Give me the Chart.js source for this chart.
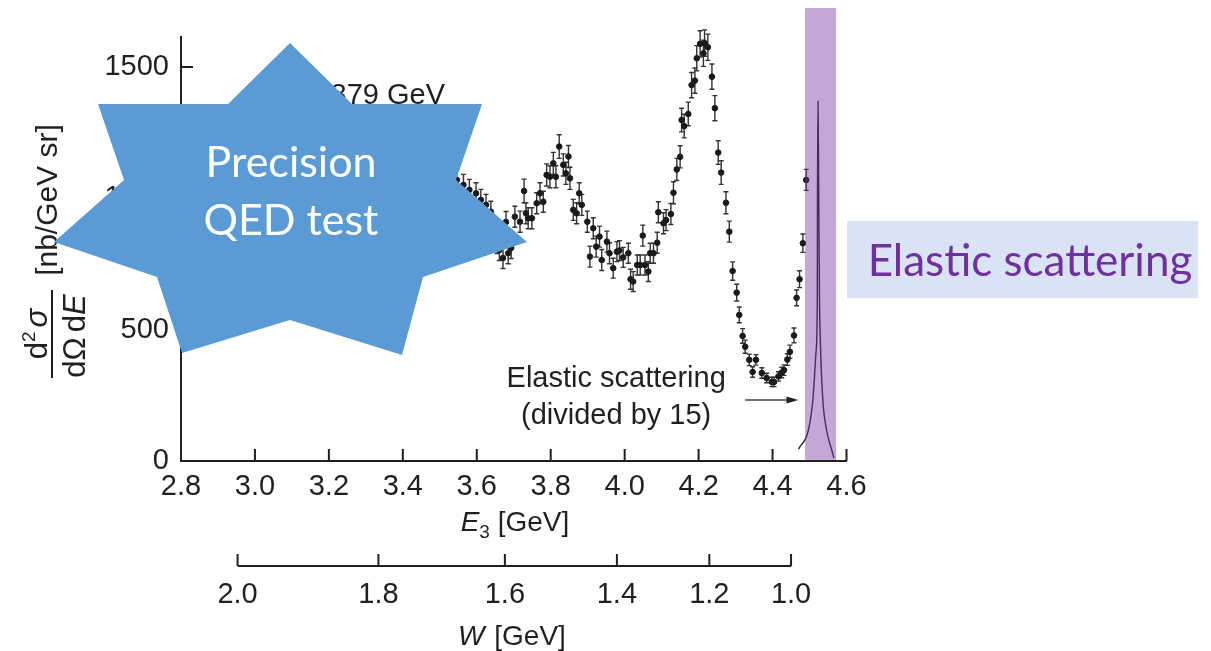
<!DOCTYPE html>
<html>
<head>
<meta charset="utf-8">
<script src="https://cdn.jsdelivr.net/npm/chart.js@4.4.1/dist/chart.umd.min.js"></script>
<style>
  html, body { margin: 0; padding: 0; background: #fff; }
  #wrap { width: 1211px; height: 651px; position: relative; }
</style>
</head>
<body>
<div id="wrap"><canvas id="c" width="1211" height="651"></canvas></div>
<script>
/* ---- dados (E3 em GeV, seção de choque em nb/GeV sr) ---- */
const energies = [
  2.80, 2.82, 2.84, 2.86, 2.88, 2.90, 2.92, 2.94, 2.96, 2.98,
  3.00, 3.02, 3.04, 3.06, 3.08, 3.10, 3.12, 3.14, 3.16, 3.18,
  3.20, 3.22, 3.24, 3.26, 3.28, 3.30, 3.32, 3.34, 3.36, 3.38,
  3.40, 3.42, 3.44, 3.46, 3.48, 3.50, 3.52,
  3.546, 3.564, 3.580, 3.598, 3.611, 3.625, 3.638, 3.647, 3.655, 3.661,
  3.671, 3.679, 3.685, 3.693, 3.703, 3.717, 3.728, 3.733, 3.739, 3.749,
  3.762, 3.771, 3.780, 3.789, 3.798, 3.807, 3.814, 3.823, 3.834, 3.841,
  3.848, 3.852, 3.861, 3.870, 3.877, 3.884, 3.899, 3.906, 3.915, 3.923,
  3.932, 3.938, 3.952, 3.959, 3.969, 3.979, 3.986, 3.996, 4.010, 4.016,
  4.023, 4.034, 4.042, 4.049, 4.055, 4.064, 4.069, 4.078, 4.088, 4.091,
  4.105, 4.112, 4.125, 4.132, 4.141, 4.150, 4.154, 4.161, 4.172, 4.181,
  4.190, 4.195, 4.204, 4.213, 4.216, 4.225, 4.236, 4.244, 4.253, 4.261,
  4.274, 4.283, 4.292, 4.303, 4.310, 4.319, 4.326, 4.337, 4.346, 4.355,
  4.371, 4.384, 4.398, 4.404, 4.416, 4.425, 4.431, 4.440, 4.447, 4.458,
  4.465, 4.473, 4.482, 4.491
];
const xsec = [
  1010, 1045, 990, 1030, 1060, 1005, 1040, 1075, 1020, 1050,
  1085, 1030, 1065, 1010, 1055, 1090, 1040, 1070, 1025, 1060,
  1095, 1045, 1080, 1035, 1070, 1100, 1055, 1085, 1040, 1075,
  1095, 1060, 1090, 1050, 1080, 1065, 1085,
  1070, 1051, 1032, 1019, 994, 975, 949, 880, 830, 803,
  773, 910, 791, 811, 930, 911, 1028, 943, 924, 924,
  981, 1019, 987, 1089, 1082, 1133, 1082, 1197, 1127, 1095,
  1159, 1076, 956, 943, 1019, 975, 911, 778, 886, 816,
  854, 765, 835, 791, 734, 797, 801, 775, 791, 692,
  683, 746, 746, 858, 746, 721, 791, 791, 831, 947,
  905, 917, 940, 1021, 1110, 1158, 1298, 1275, 1321, 1431,
  1448, 1533, 1588, 1552, 1591, 1575, 1463, 1343, 1174, 1098,
  983, 873, 723, 641, 556, 476, 435, 385, 339, 385,
  335, 316, 301, 301, 322, 337, 346, 386, 416, 478,
  621, 692, 829, 1070
];
const xsecErr = [
  40, 40, 40, 40, 40, 40, 40, 40, 40, 40,
  40, 40, 40, 40, 40, 40, 40, 40, 40, 40,
  40, 40, 40, 40, 40, 40, 40, 40, 40, 40,
  40, 40, 40, 40, 40, 40, 40,
  40, 40, 40, 40, 40, 40, 40, 40, 40, 40,
  40, 40, 40, 40, 40, 40, 45, 40, 40, 40,
  40, 40, 40, 42, 42, 42, 42, 45, 42, 42,
  42, 42, 40, 40, 40, 40, 40, 40, 40, 40,
  40, 40, 40, 40, 38, 38, 38, 38, 38, 38,
  38, 38, 38, 40, 38, 38, 38, 38, 40, 40,
  40, 40, 40, 42, 42, 42, 45, 45, 45, 48,
  48, 48, 50, 50, 50, 50, 48, 48, 45, 45,
  42, 40, 35, 32, 30, 28, 25, 22, 20, 20,
  20, 18, 18, 18, 18, 20, 20, 22, 25, 28,
  30, 32, 35, 40
];

// pico elástico (dividido por 15)
const elasticE = [4.470, 4.497, 4.509, 4.518, 4.521, 4.5215, 4.523, 4.525, 4.527, 4.530, 4.536, 4.546, 4.560, 4.566];
const elasticXsec = [45, 118, 232, 423, 613, 994, 1370, 994, 613, 423, 232, 118, 42, 11];

// eixos
const xTickValues = [2.8, 3.0, 3.2, 3.4, 3.6, 3.8, 4.0, 4.2, 4.4, 4.6];
const yTickValues = [0, 500, 1000, 1500];
const wTickLabels = ['2.0', '1.8', '1.6', '1.4', '1.2', '1.0'];
const wTickE = [2.953, 3.334, 3.676, 3.979, 4.229, 4.450];
const bandE = [4.488, 4.572];

const SANS = '"Liberation Sans", Arial, Helvetica, sans-serif';
const SLIDE = 'Lato, "Open Sans", sans-serif';
const INK = '#231f20';

/** Desenha uma sequência de trechos de texto com fontes diferentes */
function drawRuns(ctx, runs, x, y, align) {
  let w = 0;
  runs.forEach(r => { ctx.font = r.f; w += ctx.measureText(r.t).width + (r.gap || 0); });
  let cx = align === 'center' ? x - w / 2 : align === 'right' ? x - w : x;
  ctx.textAlign = 'left';
  ctx.textBaseline = 'alphabetic';
  runs.forEach(r => {
    ctx.font = r.f;
    ctx.fillText(r.t, cx, y + (r.dy || 0));
    cx += ctx.measureText(r.t).width + (r.gap || 0);
  });
}

const errorBars = {
  id: 'errorBars',
  beforeDatasetsDraw(chart) {
    const { ctx, scales: { x, y } } = chart;
    ctx.save();
    ctx.strokeStyle = '#333';
    ctx.lineWidth = 1.4;
    energies.forEach((e, i) => {
      const px = x.getPixelForValue(e);
      const top = y.getPixelForValue(xsec[i] + xsecErr[i]);
      const bot = y.getPixelForValue(xsec[i] - xsecErr[i]);
      ctx.beginPath();
      ctx.moveTo(px, top); ctx.lineTo(px, bot);
      ctx.moveTo(px - 2.5, top); ctx.lineTo(px + 2.5, top);
      ctx.moveTo(px - 2.5, bot); ctx.lineTo(px + 2.5, bot);
      ctx.stroke();
    });
    ctx.restore();
  }
};

const overlay = {
  id: 'overlay',
  afterDraw(chart) {
    const { ctx, chartArea: a, scales: { x, y } } = chart;
    ctx.save();

    // marcas dos eixos, para dentro
    ctx.strokeStyle = INK;
    ctx.lineWidth = 2;
    ctx.beginPath();
    yTickValues.slice(1).forEach(v => {
      const py = y.getPixelForValue(v);
      ctx.moveTo(a.left, py); ctx.lineTo(a.left + 12, py);
    });
    xTickValues.slice(1).forEach(v => {
      const px = x.getPixelForValue(v);
      ctx.moveTo(px, a.bottom); ctx.lineTo(px, a.bottom - 12);
    });
    ctx.stroke();

    // eixo W
    const wy = 566;
    const wx0 = x.getPixelForValue(wTickE[0]);
    const wx1 = x.getPixelForValue(wTickE[wTickE.length - 1]);
    ctx.beginPath();
    ctx.moveTo(wx0, wy); ctx.lineTo(wx1, wy);
    wTickE.forEach(e => {
      const px = x.getPixelForValue(e);
      ctx.moveTo(px, wy); ctx.lineTo(px, wy - 12);
    });
    ctx.stroke();
    ctx.fillStyle = INK;
    ctx.font = `29px ${SANS}`;
    ctx.textAlign = 'center';
    wTickE.forEach((e, i) => ctx.fillText(wTickLabels[i], x.getPixelForValue(e), 603));

    // títulos dos eixos
    drawRuns(ctx, [
      { t: 'W', f: `italic 28px ${SANS}`, gap: 2 },
      { t: ' [GeV]', f: `28px ${SANS}` }
    ], 512, 645, 'center');
    drawRuns(ctx, [
      { t: 'E', f: `italic 28px ${SANS}` },
      { t: '3', f: `19px ${SANS}`, dy: 7 },
      { t: ' [GeV]', f: `28px ${SANS}` }
    ], 515, 531, 'center');

    // título do eixo y (fração girada)
    ctx.save();
    ctx.translate(47, 334);
    ctx.rotate(-Math.PI / 2);
    drawRuns(ctx, [
      { t: 'd', f: `31px ${SANS}` },
      { t: '2', f: `19px ${SANS}`, dy: -12, gap: 4 },
      { t: 'σ', f: `italic 31px ${SANS}` }
    ], 0, 0, 'center');
    ctx.restore();
    ctx.save();
    ctx.translate(85, 336);
    ctx.rotate(-Math.PI / 2);
    drawRuns(ctx, [
      { t: 'dΩ', f: `31px ${SANS}`, gap: 5 },
      { t: 'd', f: `31px ${SANS}` },
      { t: 'E', f: `italic 31px ${SANS}` }
    ], 0, 0, 'center');
    ctx.restore();
    ctx.beginPath();
    ctx.lineWidth = 2;
    ctx.moveTo(52, 290); ctx.lineTo(52, 378);
    ctx.stroke();
    ctx.save();
    ctx.translate(57, 200);
    ctx.rotate(-Math.PI / 2);
    ctx.font = `30px ${SANS}`;
    ctx.textAlign = 'center';
    ctx.fillText('[nb/GeV sr]', 0, 0);
    ctx.restore();

    // energia do feixe
    drawRuns(ctx, [
      { t: 'E', f: `italic 29px ${SANS}` },
      { t: '1', f: `19px ${SANS}`, dy: 7, gap: 4 },
      { t: '=', f: `29px ${SANS}`, gap: 4 },
      { t: '4.879 GeV', f: `29px ${SANS}` }
    ], x.getPixelForValue(3.514), y.getPixelForValue(1359), 'right');

    // anotação do pico elástico
    ctx.font = `29px ${SANS}`;
    ctx.textAlign = 'center';
    const ax = x.getPixelForValue(3.977);
    ctx.fillText('Elastic scattering', ax, 387);
    ctx.fillText('(divided by 15)', ax, 424);
    const ay = y.getPixelForValue(232);
    const a0 = x.getPixelForValue(4.326);
    const a1 = x.getPixelForValue(4.470);
    ctx.strokeStyle = '#444';
    ctx.lineWidth = 1.6;
    ctx.beginPath();
    ctx.moveTo(a0, ay); ctx.lineTo(a1 - 8, ay);
    ctx.stroke();
    ctx.fillStyle = '#222';
    ctx.beginPath();
    ctx.moveTo(a1, ay); ctx.lineTo(a1 - 12, ay - 3.5); ctx.lineTo(a1 - 12, ay + 3.5);
    ctx.closePath();
    ctx.fill();

    // faixa roxa destacando o pico elástico
    const b0 = x.getPixelForValue(bandE[0]);
    const b1 = x.getPixelForValue(bandE[1]);
    ctx.fillStyle = 'rgba(112, 48, 160, 0.42)';
    ctx.fillRect(b0, 8, b1 - b0, a.bottom - 1 - 8);

    // estrela azul
    const star = [
      [290, 43], [352, 104], [482, 104], [456, 180], [527, 242], [423, 277], [402, 355],
      [290, 320], [182, 353], [157, 277], [54, 242], [124, 180], [98, 104], [228, 104]
    ];
    ctx.fillStyle = '#5b9bd5';
    ctx.beginPath();
    star.forEach(([sx, sy], i) => i ? ctx.lineTo(sx, sy) : ctx.moveTo(sx, sy));
    ctx.closePath();
    ctx.fill();
    ctx.fillStyle = '#fff';
    ctx.font = `43px ${SLIDE}`;
    ctx.textAlign = 'center';
    ctx.fillText('Precision', 291, 177);
    ctx.fillText('QED test', 291, 235);

    // caixa da direita
    ctx.fillStyle = '#dae3f3';
    ctx.fillRect(847, 221, 351, 77);
    ctx.fillStyle = '#7030a0';
    ctx.font = `44px ${SLIDE}`;
    ctx.fillText('Elastic scattering', 1030, 276);

    ctx.restore();
  }
};

const points = energies.map((e, i) => ({ x: e, y: xsec[i] }));
const elastic = elasticE.map((e, i) => ({ x: e, y: elasticXsec[i] }));

new Chart(document.getElementById('c').getContext('2d'), {
  type: 'scatter',
  data: {
    datasets: [
      {
        label: 'data',
        data: points,
        backgroundColor: '#1a1a1a',
        borderColor: '#1a1a1a',
        pointRadius: 2.8,
        pointHoverRadius: 2.8
      },
      {
        type: 'line',
        label: 'elastic',
        data: elastic,
        borderColor: '#2a2a2a',
        borderWidth: 1.4,
        pointRadius: 0,
        fill: false,
        cubicInterpolationMode: 'monotone'
      }
    ]
  },
  options: {
    responsive: false,
    animation: false,
    layout: { padding: { left: 101, right: 364.5, top: 37, bottom: 130 } },
    plugins: { legend: { display: false }, tooltip: { enabled: false } },
    scales: {
      x: {
        type: 'linear', min: 2.8, max: 4.6,
        afterFit: s => { s.height = 60; },
        afterBuildTicks: s => { s.ticks = xTickValues.map(v => ({ value: v })); },
        grid: { display: false, drawTicks: false },
        border: { color: INK, width: 2 },
        ticks: {
          padding: 9, color: INK, maxRotation: 0, autoSkip: false,
          font: { family: SANS, size: 29 },
          callback: v => v.toFixed(1)
        }
      },
      y: {
        min: 0, max: 1614,
        afterFit: s => { s.width = 80; },
        afterBuildTicks: s => { s.ticks = yTickValues.map(v => ({ value: v })); },
        grid: { display: false, drawTicks: false },
        border: { color: INK, width: 2 },
        ticks: {
          padding: 12, color: INK, autoSkip: false,
          font: { family: SANS, size: 29 },
          callback: v => String(v)
        }
      }
    }
  },
  plugins: [errorBars, overlay]
});
</script>
</body>
</html>
